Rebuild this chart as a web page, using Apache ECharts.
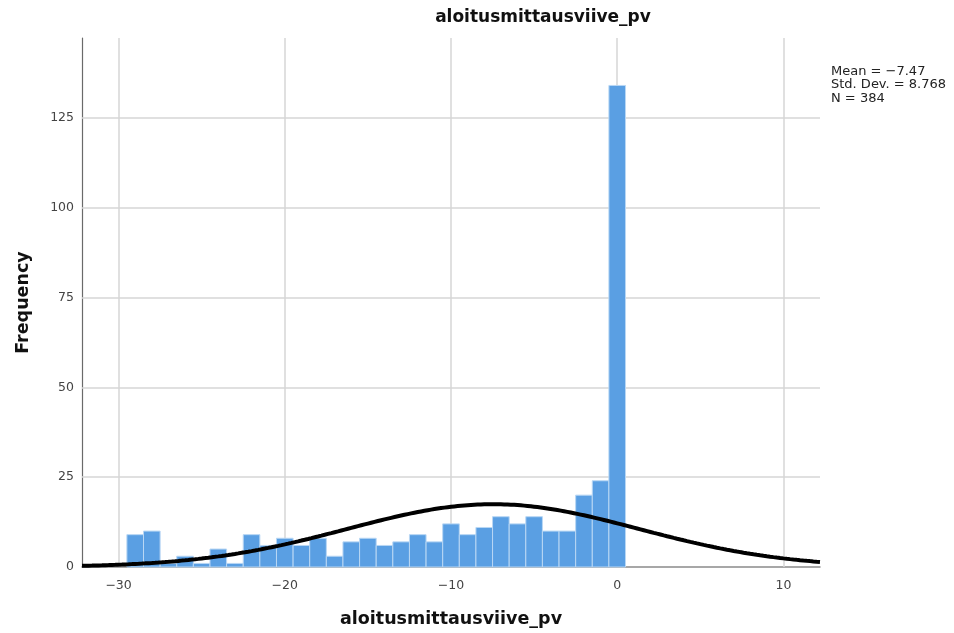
<!DOCTYPE html>
<html>
<head>
<meta charset="utf-8">
<script src="https://cdn.jsdelivr.net/npm/echarts@6/dist/echarts.min.js"></script>
<style>
  html, body { margin: 0; padding: 0; background: #ffffff; }
  #chart { width: 954px; height: 633px; }
</style>
</head>
<body>
<div id="chart"></div>
<script>
// Histogram bins (width 1, centred on each whole day)
const binCenters = [-29, -28, -27, -26, -25, -24, -23, -22, -21, -20,
                    -19, -18, -17, -16, -15, -14, -13, -12, -11, -10,
                    -9, -8, -7, -6, -5, -4, -3, -2, -1, 0];
const frequencies = [9, 10, 1, 3, 1, 5, 1, 9, 6, 8,
                     6, 8, 3, 7, 8, 6, 7, 9, 7, 12,
                     9, 11, 14, 12, 14, 10, 10, 20, 24, 134];

// Summary statistics shown beside the plot
const MEAN = -7.47;
const STD_DEV = 8.768;
const N = 384;
const BIN_WIDTH = 1;

const xTicks = [-30, -20, -10, 0, 10];
const yTicks = [0, 25, 50, 75, 100, 125];
const X_MIN = -32.2, X_MAX = 12.2;
const Y_MAX = 147.2;

const barData = binCenters.map((c, i) => [c, frequencies[i]]);

// Fitted normal curve scaled to counts per bin
const curveData = [];
for (let x = X_MIN; x <= X_MAX + 1e-9; x += 0.1) {
  const z = (x - MEAN) / STD_DEV;
  const y = N * BIN_WIDTH * Math.exp(-0.5 * z * z) / (STD_DEV * Math.sqrt(2 * Math.PI));
  curveData.push([+x.toFixed(2), y]);
}

const fmtMinus = v => String(v).replace('-', '\u2212');
const FONT = '"DejaVu Sans", "Liberation Sans", sans-serif';

const chart = echarts.init(document.getElementById('chart'), null, { renderer: 'canvas' });
chart.setOption({
  animation: false,
  backgroundColor: '#ffffff',
  grid: { left: 82, right: 134, top: 38, bottom: 65, containLabel: false },
  xAxis: {
    type: 'value',
    min: X_MIN, max: X_MAX,
    name: 'aloitusmittausviive_pv',
    nameLocation: 'middle',
    nameGap: 43,
    nameTextStyle: { fontFamily: FONT, fontSize: 17.5, fontWeight: 'bold', color: '#111' },
    axisLine: { show: true, onZero: false, lineStyle: { color: '#8a8a8a', width: 1.5 } },
    axisTick: { show: false },
    axisLabel: {
      customValues: xTicks,
      formatter: fmtMinus,
      fontFamily: FONT, fontSize: 12.5, color: '#444', margin: 12
    },
    splitLine: { show: false }
  },
  yAxis: {
    type: 'value',
    min: 0, max: Y_MAX,
    name: 'Frequency',
    nameLocation: 'middle',
    nameGap: 50,
    nameRotate: 90,
    nameTextStyle: { fontFamily: FONT, fontSize: 17.5, fontWeight: 'bold', color: '#111' },
    axisLine: { show: true, onZero: false, lineStyle: { color: '#6a6a6a', width: 1.2 } },
    axisTick: { show: false },
    axisLabel: {
      customValues: yTicks,
      fontFamily: FONT, fontSize: 12.5, color: '#444', margin: 8
    },
    splitLine: { show: false }
  },
  series: [
    {
      // grid lines drawn at the labelled tick values, beneath the bars
      type: 'line',
      data: [],
      silent: true,
      z: 1,
      markLine: {
        symbol: 'none',
        silent: true,
        z: 1,
        label: { show: false },
        lineStyle: { color: '#d6d6d6', width: 1.5, type: 'solid' },
        data: xTicks.map(v => ({ xAxis: v })).concat(yTicks.filter(v => v > 0).map(v => ({ yAxis: v })))
      }
    },
    {
      type: 'custom',
      data: barData,
      z: 3,
      renderItem: function (params, api) {
        const c = api.value(0), f = api.value(1);
        const p0 = api.coord([c - BIN_WIDTH / 2, f]);
        const p1 = api.coord([c + BIN_WIDTH / 2, 0]);
        return {
          type: 'rect',
          shape: { x: p0[0], y: p0[1], width: p1[0] - p0[0], height: p1[1] - p0[1] },
          style: { fill: '#5a9fe3', stroke: '#b9d7f4', lineWidth: 1 }
        };
      }
    },
    {
      type: 'line',
      data: curveData,
      showSymbol: false,
      symbol: 'none',
      smooth: false,
      clip: true,
      lineStyle: { color: '#000000', width: 4 },
      z: 4
    }
  ],
  graphic: [
    {
      type: 'text',
      x: 543, y: 18,
      style: {
        text: 'aloitusmittausviive_pv',
        align: 'center', verticalAlign: 'middle',
        fontFamily: FONT, fontSize: 17, fontWeight: 'bold', fill: '#111'
      }
    },
    {
      type: 'text',
      x: 831, y: 65,
      style: {
        text: 'Mean = ' + fmtMinus(MEAN) + '\nStd. Dev. = ' + STD_DEV + '\nN = ' + N,
        fontFamily: FONT, fontSize: 13, lineHeight: 13.3, fill: '#222'
      }
    }
  ]
});
</script>
</body>
</html>
